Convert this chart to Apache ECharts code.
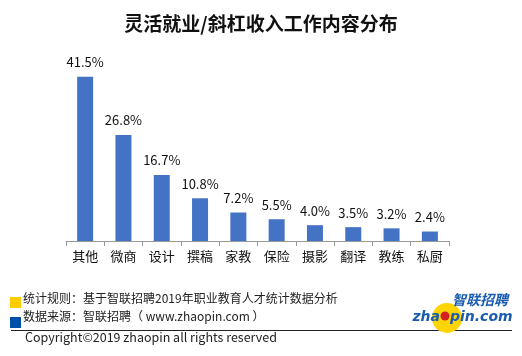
<!DOCTYPE html>
<html><head><meta charset="utf-8">
<script src="https://cdn.jsdelivr.net/npm/echarts@6/dist/echarts.min.js"></script>
<style>html,body{margin:0;padding:0;background:#fff;}#c{width:522px;height:356px;}</style>
</head><body><div id="c"></div>
<script>
var categories = ['其他','微商','设计','撰稿','家教','保险','摄影','翻译','教练','私厨'];
var values = [41.5, 26.8, 16.7, 10.8, 7.2, 5.5, 4.0, 3.5, 3.2, 2.4];
var titleText = '灵活就业/斜杠收入工作内容分布';
var note1 = '统计规则：基于智联招聘2019年职业教育人才统计数据分析';
var note2 = '数据来源：智联招聘（ www.zhaopin.com ）';
var copyright = 'Copyright©2019 zhaopin all rights reserved';
var F = '"Noto Sans CJK SC","Noto Sans",sans-serif';
var chart = echarts.init(document.getElementById('c'));
chart.setOption({
  animation: false,
  title: {text: titleText, left: 'center', top: 9, textStyle: {fontFamily: F, fontSize: 19, fontWeight: 'bold', color: '#111'}},
  grid: {left: 66, right: 73, top: 63, bottom: 115},
  xAxis: {type: 'category', data: categories,
    axisLine: {lineStyle: {color: '#999'}},
    axisTick: {show: true, length: 5, lineStyle: {color: '#999'}},
    axisLabel: {fontFamily: F, fontSize: 13, color: '#111', margin: 9}},
  yAxis: {type: 'value', min: 0, max: 45, show: false, splitLine: {show: false}},
  series: [{type: 'bar', data: values, barWidth: 16,
    itemStyle: {color: '#4472C4'},
    label: {show: true, position: 'top', distance: 8, fontFamily: F, fontSize: 13, color: '#111',
      formatter: function(p){ return p.value.toFixed(1) + '%'; }}}],
  graphic: [
    {type: 'rect', shape: {x: 10, y: 297, width: 11, height: 11}, style: {fill: '#FFCC00'}},
    {type: 'rect', shape: {x: 10, y: 317, width: 11, height: 11}, style: {fill: '#0050A8'}},
    {type: 'text', left: 23, top: 292, style: {text: note1, font: '12px ' + F, fill: '#222'}},
    {type: 'text', left: 23, top: 310, style: {text: note2, font: '12px ' + F, fill: '#222'}},
    {type: 'line', shape: {x1: 11, y1: 330.5, x2: 512, y2: 330.5}, style: {stroke: '#222', lineWidth: 1}},
    {type: 'text', left: 25, top: 331, style: {text: copyright, font: '12.5px ' + F, fill: '#222'}},
    {type: 'circle', shape: {cx: 447, cy: 318, r: 15}, style: {fill: '#FFD400'}},
    {type: 'text', left: 452, top: 293, style: {text: '智联招聘', font: 'italic bold 14px ' + F, fill: '#1A5CB0'}},
    {type: 'text', x: 440, y: 317, style: {text: 'zha', align: 'right', verticalAlign: 'middle', font: 'italic bold 14px "DejaVu Sans",sans-serif', fill: '#1A5CB0'}},
    {type: 'text', x: 450, y: 317, style: {text: 'pin.com', align: 'left', verticalAlign: 'middle', font: 'italic bold 14px "DejaVu Sans",sans-serif', fill: '#1A5CB0'}},
    {type: 'circle', shape: {cx: 445, cy: 316, r: 4.5}, style: {fill: '#D42020'}}
  ]
});
</script></body></html>
